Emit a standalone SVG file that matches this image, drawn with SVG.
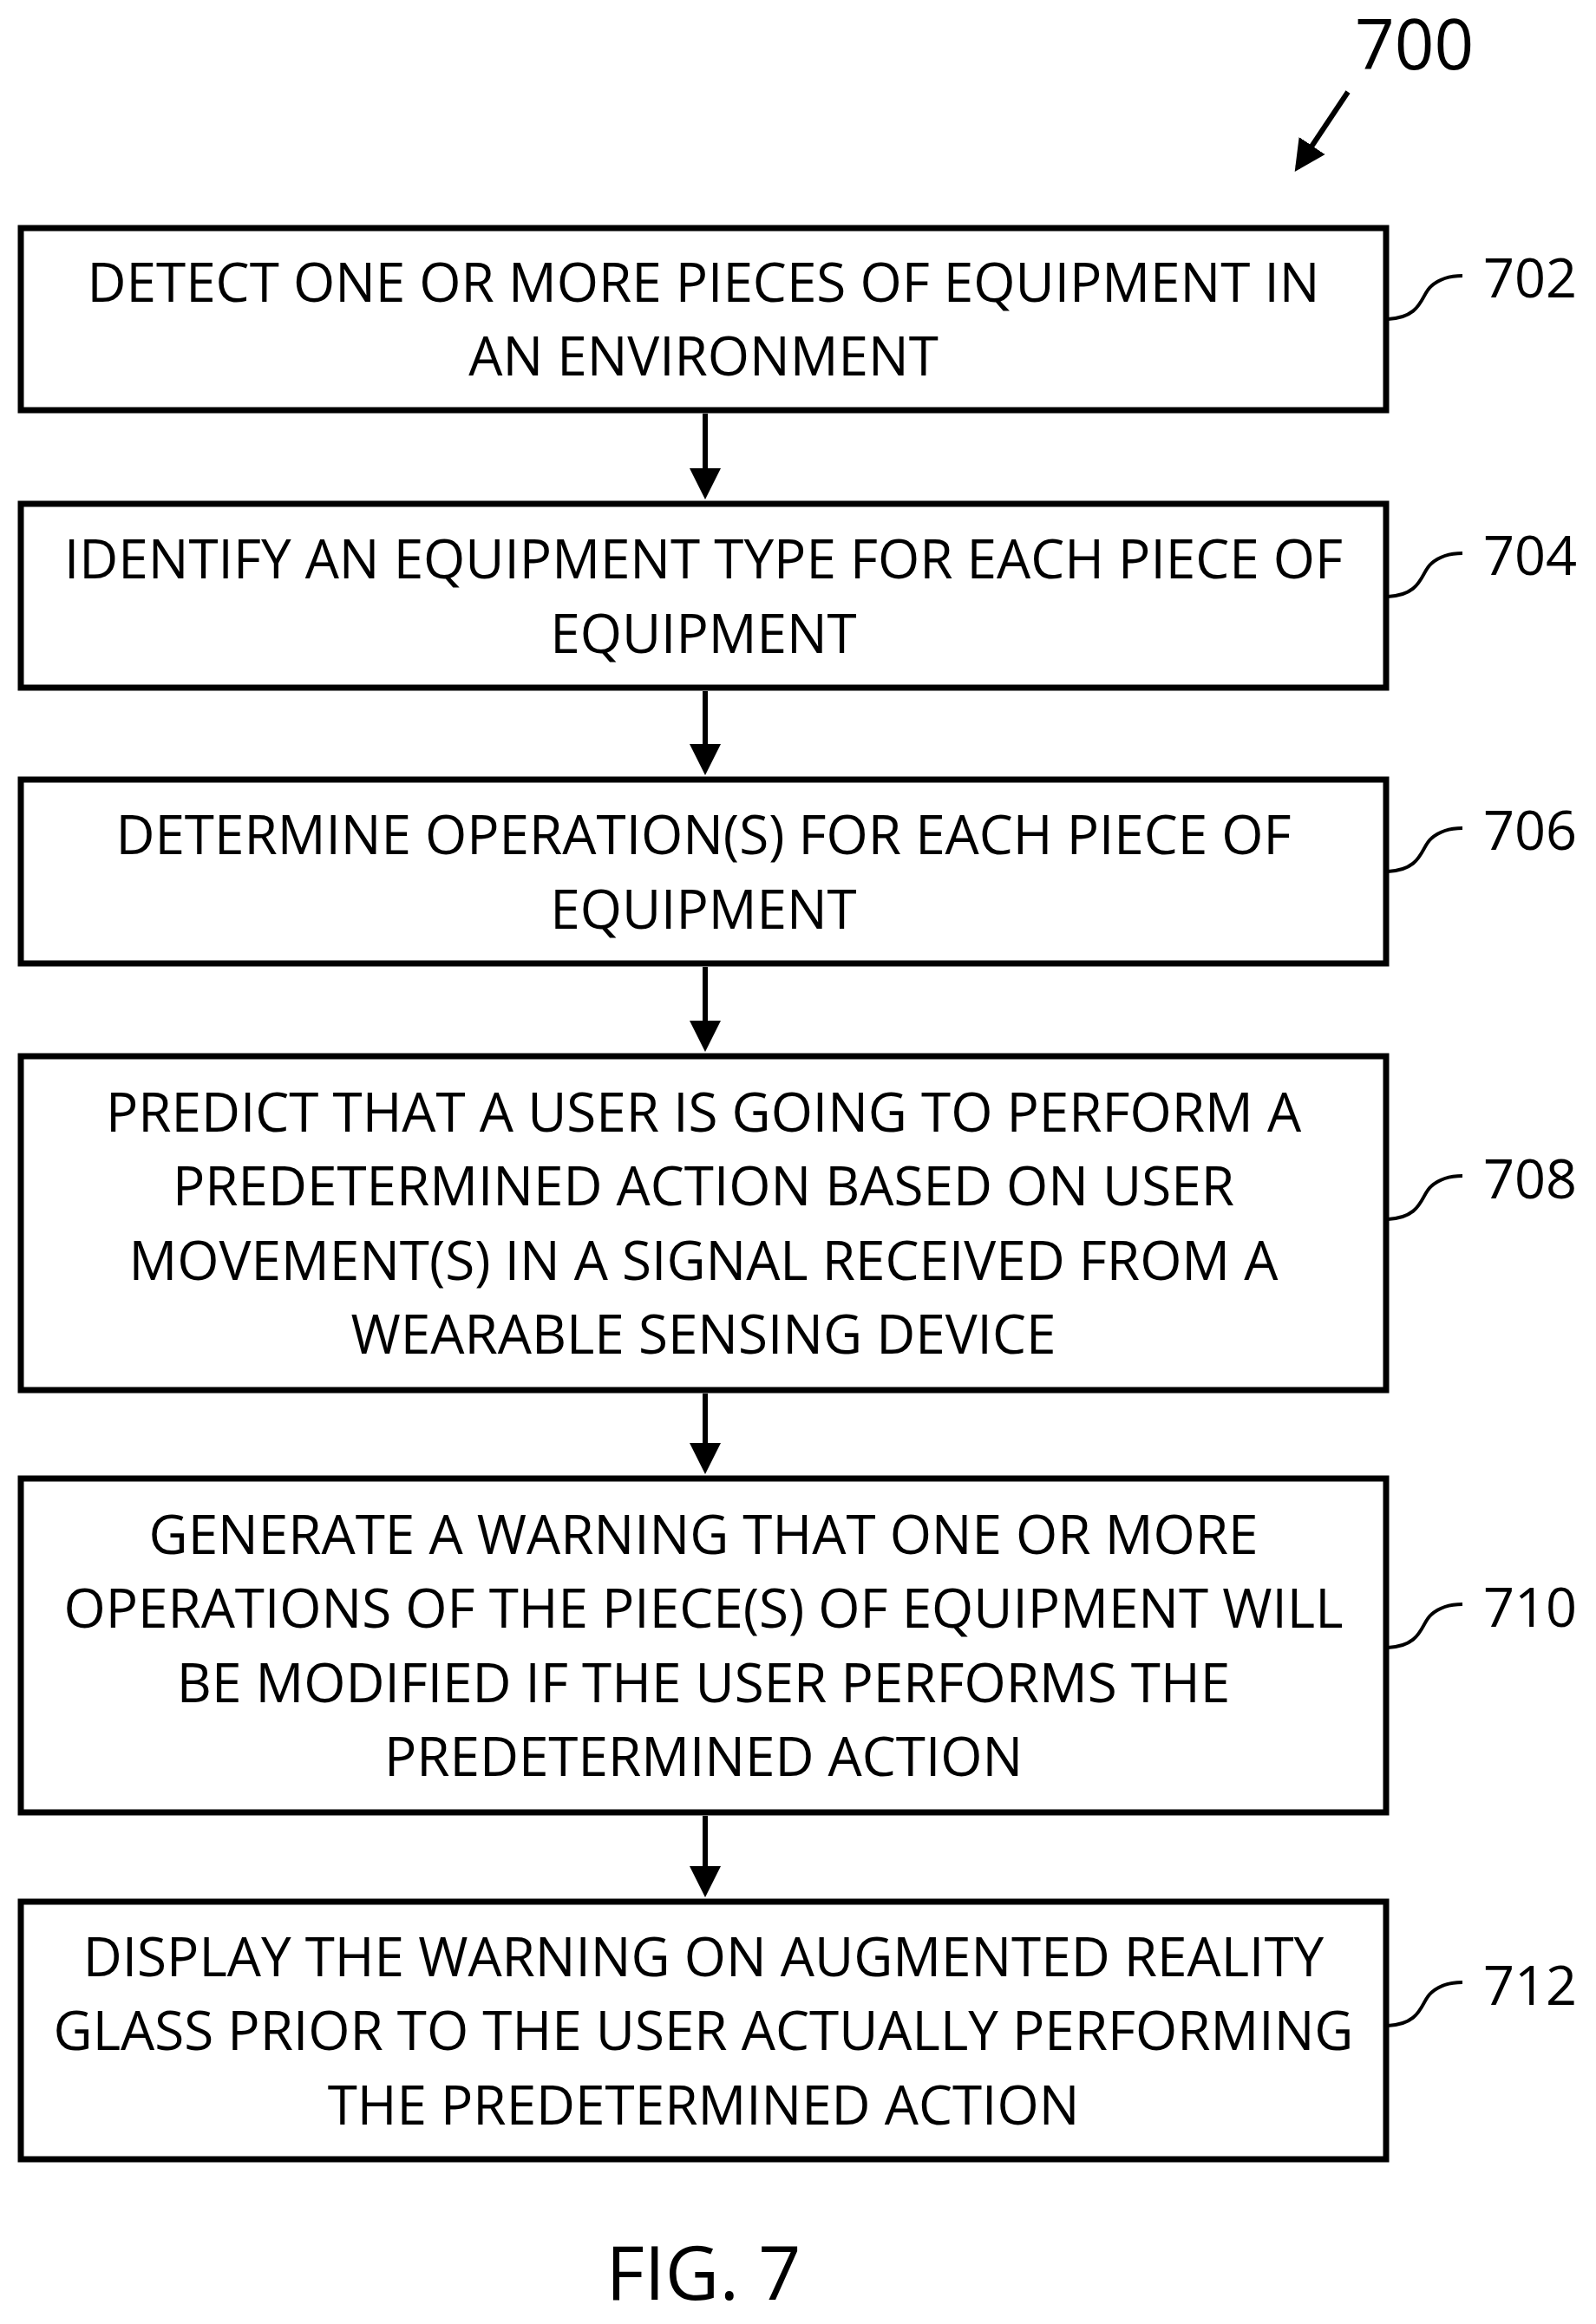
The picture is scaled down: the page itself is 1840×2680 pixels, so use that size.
<svg xmlns="http://www.w3.org/2000/svg" width="1840" height="2680" viewBox="0 0 1840 2680">
<style>
.box{fill:#fff;stroke:#000;stroke-width:7}
.t{font-family:"Open Sans","Liberation Sans",sans-serif;font-size:62px;text-anchor:middle;fill:#000}
.n{font-family:"Open Sans","Liberation Sans",sans-serif;font-size:63px;fill:#000}
.c{fill:none;stroke:#000;stroke-width:6}
.lead{fill:none;stroke:#000;stroke-width:4}
</style>
<defs>
<marker id="ah" markerWidth="6" markerHeight="6" refX="5" refY="3" orient="auto" markerUnits="strokeWidth"><path d="M0,0 L6,3 L0,6 z" fill="#000"/></marker>
</defs>
<rect width="1840" height="2680" fill="#fff"/>
<g id="n702"><rect class="box" x="24" y="263" width="1574" height="210"/>
<text class="t" x="811" y="348">DETECT ONE OR MORE PIECES OF EQUIPMENT IN</text>
<text class="t" x="811" y="433">AN ENVIRONMENT</text>
<path class="lead" d="M1600,368 C1640,366 1638,340 1650,330 C1660,321 1672,318 1686,318"/>
<text class="n" x="1710" y="343">702</text></g>
<g id="n704"><rect class="box" x="24" y="581" width="1574" height="212"/>
<text class="t" x="811" y="667">IDENTIFY AN EQUIPMENT TYPE FOR EACH PIECE OF</text>
<text class="t" x="811" y="753">EQUIPMENT</text>
<path class="lead" d="M1600,688 C1640,686 1638,660 1650,650 C1660,641 1672,638 1686,638"/>
<text class="n" x="1710" y="663">704</text></g>
<g id="n706"><rect class="box" x="24" y="899" width="1574" height="212"/>
<text class="t" x="811" y="985">DETERMINE OPERATION(S) FOR EACH PIECE OF</text>
<text class="t" x="811" y="1071">EQUIPMENT</text>
<path class="lead" d="M1600,1005 C1640,1003 1638,977 1650,967 C1660,958 1672,955 1686,955"/>
<text class="n" x="1710" y="980">706</text></g>
<g id="n708"><rect class="box" x="24" y="1218" width="1574" height="385"/>
<text class="t" x="811" y="1305">PREDICT THAT A USER IS GOING TO PERFORM A</text>
<text class="t" x="811" y="1390">PREDETERMINED ACTION BASED ON USER</text>
<text class="t" x="811" y="1476">MOVEMENT(S) IN A SIGNAL RECEIVED FROM A</text>
<text class="t" x="811" y="1561">WEARABLE SENSING DEVICE</text>
<path class="lead" d="M1600,1406 C1640,1404 1638,1378 1650,1368 C1660,1359 1672,1356 1686,1356"/>
<text class="n" x="1710" y="1382">708</text></g>
<g id="n710"><rect class="box" x="24" y="1705" width="1574" height="385"/>
<text class="t" x="811" y="1792">GENERATE A WARNING THAT ONE OR MORE</text>
<text class="t" x="811" y="1877">OPERATIONS OF THE PIECE(S) OF EQUIPMENT WILL</text>
<text class="t" x="811" y="1963">BE MODIFIED IF THE USER PERFORMS THE</text>
<text class="t" x="811" y="2048">PREDETERMINED ACTION</text>
<path class="lead" d="M1600,1900 C1640,1898 1638,1872 1650,1862 C1660,1853 1672,1850 1686,1850"/>
<text class="n" x="1710" y="1876">710</text></g>
<g id="n712"><rect class="box" x="24" y="2193" width="1574" height="297"/>
<text class="t" x="811" y="2279">DISPLAY THE WARNING ON AUGMENTED REALITY</text>
<text class="t" x="811" y="2364">GLASS PRIOR TO THE USER ACTUALLY PERFORMING</text>
<text class="t" x="811" y="2450">THE PREDETERMINED ACTION</text>
<path class="lead" d="M1600,2336 C1640,2334 1638,2308 1650,2298 C1660,2289 1672,2286 1686,2286"/>
<text class="n" x="1710" y="2312">712</text></g>
<g id="connectors">
<line class="c" x1="813" y1="477" x2="813" y2="570" marker-end="url(#ah)"/>
<line class="c" x1="813" y1="797" x2="813" y2="888" marker-end="url(#ah)"/>
<line class="c" x1="813" y1="1115" x2="813" y2="1207" marker-end="url(#ah)"/>
<line class="c" x1="813" y1="1607" x2="813" y2="1694" marker-end="url(#ah)"/>
<line class="c" x1="813" y1="2094" x2="813" y2="2182" marker-end="url(#ah)"/>
<line class="c" x1="1554" y1="106" x2="1496" y2="193" marker-end="url(#ah)"/>
</g>
<text class="n" x="1562" y="80" style="font-size:80px">700</text>
<text class="n" x="811" y="2652" text-anchor="middle" style="font-size:86px">FIG. 7</text>
</svg>
